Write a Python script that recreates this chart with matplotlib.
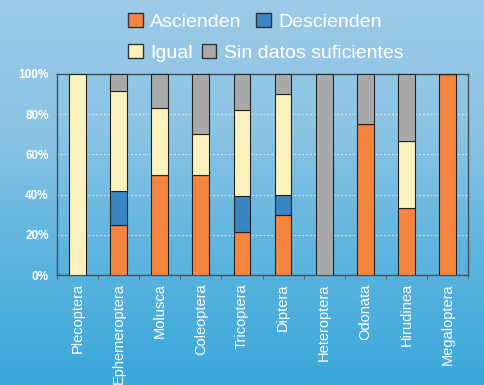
import numpy as np
import matplotlib

matplotlib.use("Agg")
import matplotlib.pyplot as plt
from matplotlib.patches import Patch
from matplotlib.colors import LinearSegmentedColormap

plt.rcParams["font.family"] = ["Liberation Sans", "DejaVu Sans"]

categories = ["Plecoptera", "Ephemeroptera", "Molusca", "Coleoptera", "Tricoptera",
              "Diptera", "Heteroptera", "Odonata", "Hirudinea", "Megaloptera"]
ascienden = [0, 25.0, 50.0, 50.0, 21.4, 30.0, 0, 75.0, 33.3, 100.0]
descienden = [0, 16.7, 0, 0, 17.9, 10.0, 0, 0, 0, 0]
igual = [100.0, 50.0, 33.3, 20.0, 42.8, 50.0, 0, 0, 33.4, 0]
sin_datos = [0, 8.3, 16.7, 30.0, 17.9, 10.0, 100.0, 25.0, 33.3, 0]

series = [
    ("Ascienden", ascienden, "#f5843f"),
    ("Descienden", descienden, "#3a86c5"),
    ("Igual", igual, "#fbf2bd"),
    ("Sin datos suficientes", sin_datos, "#a8a9ab"),
]

fig = plt.figure(figsize=(4.84, 3.85), dpi=100)

# background gradient
bg = fig.add_axes([0, 0, 1, 1], zorder=-10)
cmap = LinearSegmentedColormap.from_list("bg", ["#9dcae8", "#8cc4e4", "#5cb4df", "#3aa8da"])
grad = np.linspace(0, 1, 256).reshape(-1, 1)
bg.imshow(grad, aspect="auto", cmap=cmap, extent=[0, 1, 0, 1])
bg.axis("off")

ax = fig.add_axes([57 / 484, 1 - 275 / 385, 411 / 484, 201 / 385])
ax.patch.set_alpha(0)

x = np.arange(len(categories))
bottom = np.zeros(len(categories))
for name, vals, color in series:
    vals = np.array(vals)
    ax.bar(x, vals, width=0.41, bottom=bottom, color=color,
           edgecolor="#222222", linewidth=0.8, zorder=3)
    bottom += vals

ax.set_xlim(-0.5, len(categories) - 0.5)
ax.set_ylim(0, 100)
ax.set_yticks([0, 20, 40, 60, 80, 100])
ax.set_yticklabels([f"{v}%" for v in [0, 20, 40, 60, 80, 100]],
                   color="white", fontsize=8.5, fontweight="bold")
ax.set_xticks(x)
ax.set_xticklabels(categories, rotation=90, color="white", fontsize=10.5)
ax.tick_params(axis="y", length=0, pad=6)
ax.tick_params(axis="x", length=0, pad=6)
ax.set_xticks(np.arange(len(categories) + 1) - 0.5, minor=True)
ax.tick_params(axis="x", which="minor", length=3, color="#555555", direction="out")
for s in ax.spines.values():
    s.set_color("#4a4f55")
    s.set_linewidth(1.0)
for y in [20, 40, 60, 80]:
    ax.axhline(y, color="#e6e6e6", linestyle=(0, (1.5, 2)), linewidth=0.8, zorder=1)

h = [Patch(facecolor=c, edgecolor="#333333", linewidth=1.0) for _, _, c in series]
leg_kw = dict(frameon=False, fontsize=14, labelcolor="white", handlelength=0.75,
              handleheight=0.75, handletextpad=0.4,
              loc="center left", borderpad=0, borderaxespad=0)
leg1 = fig.legend(h[:2], [s[0] for s in series[:2]], ncol=2, columnspacing=0.75,
                  bbox_to_anchor=(128 / 484, 1 - 22 / 385), **leg_kw)
leg2 = fig.legend(h[2:], [s[0] for s in series[2:]], ncol=2, columnspacing=0.45,
                  bbox_to_anchor=(128 / 484, 1 - 53 / 385), **leg_kw)

fig.savefig("out.png", dpi=100)
